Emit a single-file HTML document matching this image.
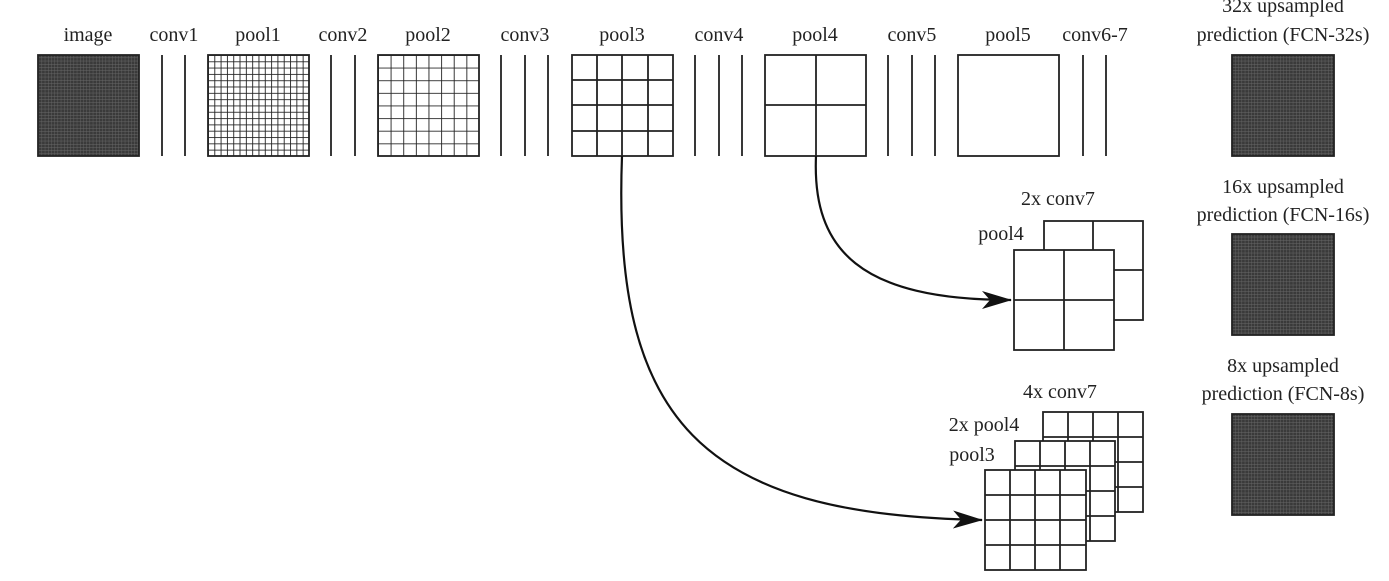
<!DOCTYPE html>
<html><head><meta charset="utf-8"><style>
html,body{margin:0;padding:0;background:#fff;}
svg{display:block}
text{font-family:"Liberation Serif",serif;font-size:20px;fill:#222;text-anchor:middle}
</style></head><body>
<svg width="1389" height="581" viewBox="0 0 1389 581" xmlns="http://www.w3.org/2000/svg">
<defs>
<pattern id="dk" width="3.2" height="3.2" patternUnits="userSpaceOnUse"><rect width="3.2" height="3.2" fill="#3a3a3a"/><path d="M0 0H3.2M0 0V3.2" stroke="#6a6a6a" stroke-width="0.8"/></pattern>
<pattern id="g16" x="208" y="55" width="6.3125" height="6.3125" patternUnits="userSpaceOnUse"><path d="M0 0H7M0 0V7" stroke="#222" stroke-width="1.8"/></pattern>
<pattern id="g8" x="378" y="55" width="12.625" height="12.625" patternUnits="userSpaceOnUse"><path d="M0 0H13M0 0V13" stroke="#222" stroke-width="1.8"/></pattern>
<marker id="ah" markerWidth="30" markerHeight="20" refX="29" refY="10" orient="auto" markerUnits="userSpaceOnUse"><path d="M0 1L30 10L0 19L8 10Z" fill="#111"/></marker>
</defs>
<g stroke="#222" stroke-width="1.8" fill="none">
<rect x="38" y="55" width="101" height="101" fill="url(#dk)"/>
<rect x="208" y="55" width="101" height="101" fill="url(#g16)"/>
<rect x="378" y="55" width="101" height="101" fill="url(#g8)"/>
<rect x="572" y="55" width="101" height="101" fill="#fff"/>
<path d="M597 55V156M622 55V156M648 55V156M572 80H673M572 105H673M572 131H673"/>
<rect x="765" y="55" width="101" height="101" fill="#fff"/>
<path d="M816 55V156M765 105H866"/>
<rect x="958" y="55" width="101" height="101" fill="#fff"/>
<path d="M162 55V156M185 55V156M331 55V156M355 55V156M501 55V156M525 55V156M548 55V156M695 55V156M719 55V156M742 55V156M888 55V156M912 55V156M935 55V156M1083 55V156M1106 55V156"/>
<rect x="1232" y="55" width="102" height="101" fill="url(#dk)"/>
<rect x="1232" y="234" width="102" height="101" fill="url(#dk)"/>
<rect x="1232" y="414" width="102" height="101" fill="url(#dk)"/>
<rect x="1044" y="221" width="99" height="99" fill="#fff"/>
<path d="M1093 221V320M1044 270H1143"/>
<rect x="1014" y="250" width="100" height="100" fill="#fff"/>
<path d="M1064 250V350M1014 300H1114"/>
<rect x="1043" y="412" width="100" height="100" fill="#fff"/>
<path d="M1068 412V512M1093 412V512M1118 412V512M1043 437H1143M1043 462H1143M1043 487H1143"/>
<rect x="1015" y="441" width="100" height="100" fill="#fff"/>
<path d="M1040 441V541M1065 441V541M1090 441V541M1015 466H1115M1015 491H1115M1015 516H1115"/>
<rect x="985" y="470" width="101" height="100" fill="#fff"/>
<path d="M1010 470V570M1035 470V570M1060 470V570M985 495H1086M985 520H1086M985 545H1086"/>
<path d="M816 156 C812 250 860 300 1011 300" stroke="#111" stroke-width="2.2" marker-end="url(#ah)"/>
<path d="M622 156 C612 420 700 515 982 520" stroke="#111" stroke-width="2.2" marker-end="url(#ah)"/>
</g>
<text x="88" y="41">image</text>
<text x="174" y="41">conv1</text>
<text x="258" y="41">pool1</text>
<text x="343" y="41">conv2</text>
<text x="428" y="41">pool2</text>
<text x="525" y="41">conv3</text>
<text x="622" y="41">pool3</text>
<text x="719" y="41">conv4</text>
<text x="815" y="41">pool4</text>
<text x="912" y="41">conv5</text>
<text x="1008" y="41">pool5</text>
<text x="1095" y="41">conv6-7</text>
<text x="1283" y="12">32x upsampled</text>
<text x="1283" y="41">prediction (FCN-32s)</text>
<text x="1283" y="193">16x upsampled</text>
<text x="1283" y="221">prediction (FCN-16s)</text>
<text x="1283" y="372">8x upsampled</text>
<text x="1283" y="400">prediction (FCN-8s)</text>
<text x="1058" y="205">2x conv7</text>
<text x="1001" y="240">pool4</text>
<text x="1060" y="398">4x conv7</text>
<text x="984" y="431">2x pool4</text>
<text x="972" y="461">pool3</text>
</svg>
</body></html>
